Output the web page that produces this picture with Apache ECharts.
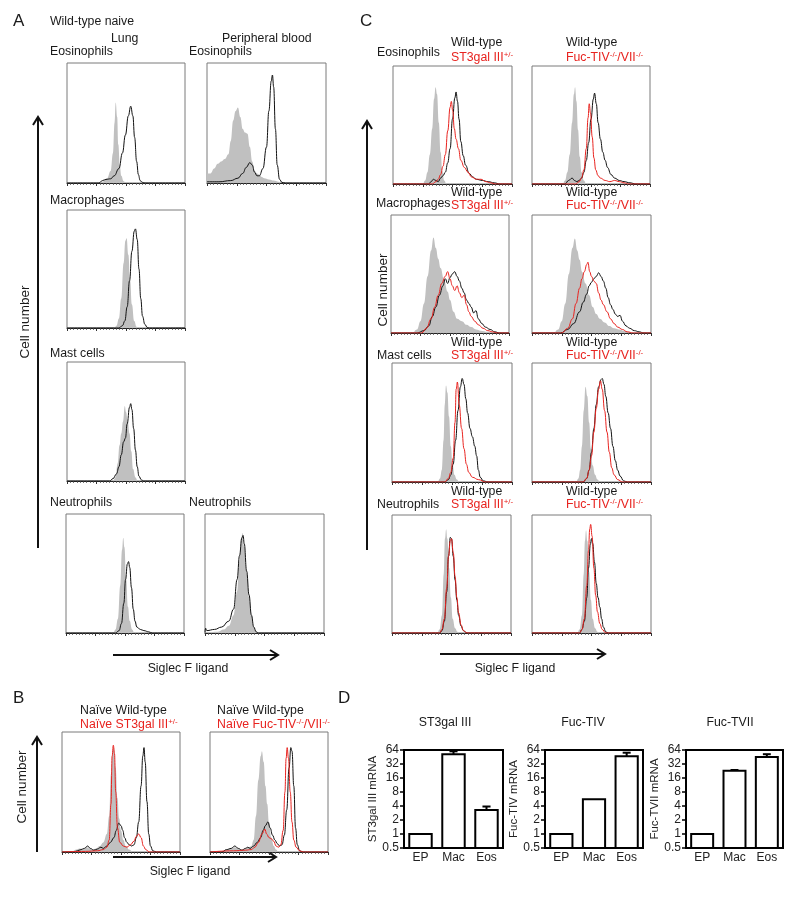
<!DOCTYPE html>
<html><head><meta charset="utf-8">
<script src="https://cdn.jsdelivr.net/npm/echarts@6/dist/echarts.min.js"></script>
<style>html,body{margin:0;padding:0;background:#fff}#c{width:800px;height:901px}</style>
</head><body><div id="c"></div>
<script>
// ---------- Histogram data: [x (% of axis), count (% of box height)] ----------
// Panel A (wild-type naive)
const aLungEosGray  = [[26,0],[30,1],[34,4],[37,10],[39,25],[40.3,50],[41.3,67],[42.5,55],[43.5,32],[44.8,14],[46,6],[48,1.5],[50,0]];
const aLungEosBlack = [[27,0],[30,2],[33,3],[37,3.5],[40,6],[44,12],[47,25],[49.5,40],[52,56],[54,64],[55.8,56],[57.3,38],[59,18],[60.5,7],[62,2],[64,0.5],[66,0]];
const aPbEosGray    = [[0,8],[3,8],[6,12],[9,16],[12,18],[15,20],[18,24],[20,35],[22,52],[24,60],[26,63],[28,55],[30,45],[32,42],[34,41],[36,30],[38,18],[40,10],[42,8],[44,7],[46,5],[48,4],[52,3],[56,2],[60,1],[64,0]];
const aPbEosBlack   = [[0,1],[10,1],[20,2],[26,4],[30,8],[33,13],[36,17],[38,15],[40,9],[42,6],[44,6],[47,12],[50,30],[52,60],[54,85],[55,90],[56,80],[57.5,45],[59,15],[61,3],[63,0.5],[66,0]];
const aMacGray      = [[40,0],[42,2],[44,8],[46,25],[48,55],[49.5,74],[50.5,76],[52,62],[53.5,40],[55,20],[57,6],[59,1],[61,0]];
const aMacBlack     = [[44,0],[47,2],[49,6],[51,18],[53,40],[55,65],[57,82],[58,84],[59.5,75],[61,50],[62.5,25],[64,10],[66,3],[68,0.5],[70,0]];
const aMastGray     = [[39,0],[41,3],[43,15],[44.5,30],[46,40],[47.5,50],[49,63],[50,58],[51.5,50],[53,40],[54.5,25],[56,10],[58,3],[60,0]];
const aMastBlack    = [[36,0],[39,2],[42,6],[44,12],[46,22],[48,33],[49.5,36],[51,48],[53,62],[54,65],[55,60],[56.5,44],[58,26],[59.5,12],[61,4],[63,1],[65,0]];
const aNeuGray      = [[40,0],[42,3],[44,12],[46,40],[47.5,70],[48.5,80],[49.5,72],[51,45],[52.5,22],[54,10],[56,3],[58,0]];
const aNeuBlack     = [[42,0],[45,2],[47,8],[49,25],[50.5,45],[52,58],[53,60],[54,55],[55.5,38],[57,20],[58.5,10],[60,5],[63,3],[66,2],[70,1],[73,0]];
const aPbNeuGray    = [[0,0],[10,1],[16,3],[20,6],[24,15],[27,35],[29,60],[30.5,80],[31.5,84],[33,72],[35,50],[37,30],[39,15],[41,5],[43,1],[45,0]];
const aPbNeuBlack   = [[0,0.5],[0.5,4],[1.5,2],[8,3],[14,5],[20,10],[24,20],[27,45],[29,65],[31,80],[32,82],[33,75],[35,52],[37,32],[39,15],[41,5],[43,1],[45,0]];
// Panel B (naive)
const bSt3Gray  = [[8,0],[12,2],[15,3],[18,2],[21,4],[23,3],[26,2],[29,3],[32,5],[35,8],[38,15],[40,30],[41.5,65],[43,85],[44,87],[45.5,70],[47,45],[48.5,28],[50,18],[52,10],[54,5],[57,2],[60,0]];
const bSt3Black = [[10,0],[13,1],[16,2],[19,3],[21.7,5],[24,3],[27,1.5],[30,2.5],[33,4],[35,3],[38,5],[41,8],[44,12],[46,18],[48,24],[50,22],[51.5,18],[53,12],[55,8],[57,6],[59,5],[61,6],[63,12],[65,25],[67,55],[68.5,80],[69.5,87],[70.5,75],[72,42],[73.5,15],[75,5],[77,1],[80,0]];
const bSt3Red   = [[0,0],[20,0.5],[30,1],[35,2],[38,4],[40,10],[41.5,40],[42.5,80],[43.5,89],[44.5,82],[45.5,50],[47,20],[49,8],[52,5],[55,4],[58,6],[61,9],[63,13],[65,15],[67,12],[69,5],[71,2],[74,0]];
const bFucGray  = [[10,0],[14,2],[18,3],[21,4],[24,3],[27,2],[30,3],[33,4],[35,5],[37,10],[39,30],[41,60],[43,80],[44,84],[45.5,75],[47,55],[48.5,40],[50,25],[52,12],[54,5],[56,2],[58,0]];
const bFucBlack = [[10,0],[14,2],[18,3],[21,5],[24,3],[27,1.5],[30,3],[32,4],[34,3],[37,5],[40,8],[43,12],[45,18],[47,22],[49,25],[51,20],[53,14],[55,10],[57,7],[59,5],[61,6],[63,14],[65,35],[67,70],[68.5,87],[69.5,84],[71,55],[72.5,20],[74,6],[76,1],[79,0]];
const bFucRed   = [[0,0],[20,1],[30,1.5],[35,2],[38,4],[41,8],[44,15],[46.5,19],[48,15],[50,12],[52,11],[54,9],[56,5],[58,4],[60,6],[62,18],[63.5,50],[64.5,78],[65.4,87],[66.5,78],[68,50],[69.5,25],[71,10],[73,4],[76,1],[79,0]];
// Panel C
const cEosSt3Gray  = [[25,0],[27,3],[29,10],[31,25],[33,47],[34.5,72],[35.8,82],[37,76],[38.5,52],[40,27],[41.5,11],[43,3],[45,0]];
const cEosSt3Black = [[30,0],[32,2],[34,4],[36,3],[38,2],[40,5],[42,7],[44,10],[46,18],[48,30],[50,55],[52,73],[53,78],[54.2,70],[55.5,55],[57,36],[59,24],[61,16],[64,9],[67,6],[70,4],[75,3],[80,2],[85,1],[90,0]];
const cEosSt3Red   = [[33,0],[36,2],[38,4],[40,8],[42,15],[44,25],[46,45],[48,65],[49,70],[50.2,62],[51.5,47],[53,38],[55,30],[57,20],[60,14],[63,10],[66,6],[70,4],[74,4],[78,2],[82,1],[86,0]];
const cEosFucGray  = [[26,0],[28,3],[30,10],[32,25],[34,52],[35.5,76],[36.5,82],[37.7,70],[39,46],[40.5,23],[42,10],[44,3],[46,0]];
const cEosFucBlack = [[28,0],[31,3],[34,5],[36,3],[38,2],[40,3],[42,5],[44,10],[46,20],[48,35],[50,55],[52,72],[53,77],[54.5,68],[56,52],[58,38],[60,27],[62,20],[64,14],[67,8],[70,5],[74,3],[78,2],[83,1],[88,0]];
const cEosFucRed   = [[37,0],[40,2],[42,5],[44,12],[46,30],[47.5,56],[48.5,68],[49.6,60],[51,40],[52.5,22],[54,12],[56,7],[58,5],[62,3],[66,2],[70,3],[74,2],[78,1],[82,0]];
const cMacSt3Gray  = [[18,0],[22,3],[25,10],[28,25],[31,48],[34,70],[36,81],[38,72],[40,63],[42,55],[45,45],[48,35],[50,28],[53,18],[56,12],[60,10],[64,7],[68,5],[72,3],[76,2],[82,1],[88,0]];
const cMacSt3Black = [[22,0],[28,2],[32,6],[35,14],[38,22],[41,32],[44,40],[46,46],[48,42],[50,47],[52,50],[54,52],[56,48],[58,44],[60,38],[62,34],[64,28],[66,25],[68,22],[70,17],[72,19],[74,12],[77,8],[80,5],[84,3],[88,1],[92,0]];
const cMacSt3Red   = [[26,0],[30,4],[34,12],[37,22],[40,32],[43,42],[46,48],[48,52],[50,46],[52,40],[54,36],[56,40],[58,34],[60,30],[62,32],[64,24],[66,18],[68,14],[71,10],[74,7],[78,4],[82,2],[86,1],[90,0]];
const cMacFucGray  = [[18,0],[22,3],[25,10],[28,25],[31,50],[34,72],[36,80],[38,70],[40,62],[42,52],[45,42],[48,32],[51,22],[54,16],[57,12],[61,9],[65,6],[69,4],[73,3],[77,2],[82,1],[88,0]];
const cMacFucBlack = [[24,0],[30,3],[35,8],[40,18],[43,26],[46,33],[48,40],[50,43],[52,46],[54,48],[56,51],[58,48],[60,44],[62,38],[64,30],[66,24],[68,20],[70,16],[72,14],[74,15],[76,10],[79,6],[82,4],[86,2],[90,1],[94,0]];
const cMacFucRed   = [[25,0],[30,4],[34,12],[37,25],[40,38],[42,46],[44,52],[46,58],[47,60],[48.5,52],[50,48],[52,44],[54,42],[56,34],[58,28],[60,24],[63,18],[66,12],[69,8],[72,5],[76,3],[80,1],[85,0]];
const cMastSt3Gray  = [[38,0],[40,3],[41.5,10],[43,35],[44,65],[45,81],[46.2,75],[47.5,55],[49,30],[50.5,15],[52,6],[54,2],[56,0]];
const cMastSt3Black = [[44,0],[47,2],[49,6],[51,15],[53,35],[55,60],[57,80],[58.5,87],[60,82],[61.5,70],[63,58],[65,45],[67,38],[69,30],[70.5,22],[72,10],[73.5,4],[76,1],[80,0]];
const cMastSt3Red   = [[44,0],[47,3],[49,8],[51,20],[52.5,50],[53.5,78],[54.5,84],[56,65],[58,45],[60,28],[62,15],[64,8],[67,4],[72,2],[78,0]];
const cMastFucGray  = [[37,0],[39,3],[40.5,10],[42,30],[43.5,60],[45,80],[46.5,72],[48,50],[49.5,28],[51,14],[53,6],[55,2],[57,0]];
const cMastFucBlack = [[43,0],[46,3],[48,10],[50,25],[52,45],[54,65],[56,80],[58,86],[59,87],[60.5,82],[62,72],[64,58],[66,45],[68,30],[70,18],[72,10],[74,5],[77,1],[80,0]];
const cMastFucRed   = [[43,0],[46,3],[48,10],[50,22],[52,42],[54,62],[56,78],[57.5,85],[59,78],[61,60],[63,42],[65,25],[67,12],[69,6],[72,2],[76,0]];
const cNeuSt3Gray  = [[38,0],[40,3],[42,15],[43.5,50],[44.5,80],[45.5,88],[46.5,80],[48,55],[49.5,30],[51,12],[53,4],[55,1],[57,0]];
const cNeuSt3Black = [[40,0],[42,2],[44,10],[46,35],[47.5,65],[49,81],[50,80],[51.5,65],[53,45],[54.5,28],[56,15],[58,6],[60,2],[63,0]];
const cNeuSt3Red   = [[40,0],[42,3],[44,12],[46,38],[47.5,65],[49,78],[50,80],[51.5,68],[53,48],[54.5,30],[56,17],[58,7],[60,2],[63,0]];
const cNeuFucGray  = [[38,0],[40,3],[42,15],[43.5,50],[44.5,78],[45.4,87],[46.5,78],[48,52],[49.5,28],[51,12],[53,4],[55,1],[57,0]];
const cNeuFucBlack = [[40,0],[42,3],[44,10],[46,30],[47.5,55],[49,75],[50,80],[51,76],[52.5,60],[54,42],[55.5,30],[57,22],[58.5,12],[60,5],[62,1],[64,0]];
const cNeuFucRed   = [[40,0],[42,3],[44,12],[46,40],[47.5,70],[48.5,88],[49.3,92],[50.5,82],[52,55],[53.5,32],[55,18],[57,8],[59,3],[62,0]];

// ---------- Panel D bar data (relative mRNA, log2 axis) ----------
const barCategories = ['EP', 'Mac', 'Eos'];
const st3galMean = [1, 52, 3.3];
const st3galErrTop = [1, 60, 3.9];
const fucTIVMean = [1, 5.6, 47];
const fucTIVErrTop = [1, 5.7, 56];
const fucTVIIMean = [1, 23, 45];
const fucTVIIErrTop = [1, 23.8, 52];
const barTitles = ['ST3gal III', 'Fuc-TIV', 'Fuc-TVII'];
const barYNames = ['ST3gal III mRNA', 'Fuc-TIV mRNA', 'Fuc-TVII mRNA'];

// ---------- layout ----------
const FONT = '"Liberation Sans", Arial, sans-serif';
const RED = '#e8231f';
const GRAYFILL = '#c0c0c0';

const histPanels = [
  {x:67, y:63, w:118, h:120, s:[[aLungEosGray,'g'],[aLungEosBlack,'k']]},
  {x:207,y:63, w:119, h:120, s:[[aPbEosGray,'g'],[aPbEosBlack,'k']]},
  {x:67, y:210,w:118, h:118, s:[[aMacGray,'g'],[aMacBlack,'k']]},
  {x:67, y:362,w:118, h:119, s:[[aMastGray,'g'],[aMastBlack,'k']]},
  {x:66, y:514,w:118, h:119, s:[[aNeuGray,'g'],[aNeuBlack,'k']]},
  {x:205,y:514,w:119, h:119, s:[[aPbNeuGray,'g'],[aPbNeuBlack,'k']]},
  {x:62, y:732,w:118, h:120, s:[[bSt3Gray,'g'],[bSt3Black,'k'],[bSt3Red,'r']]},
  {x:210,y:732,w:118, h:120, s:[[bFucGray,'g'],[bFucBlack,'k'],[bFucRed,'r']]},
  {x:393,y:66, w:119, h:118, s:[[cEosSt3Gray,'g'],[cEosSt3Black,'k'],[cEosSt3Red,'r']]},
  {x:532,y:66, w:118, h:118, s:[[cEosFucGray,'g'],[cEosFucBlack,'k'],[cEosFucRed,'r']]},
  {x:391,y:215,w:118, h:118, s:[[cMacSt3Gray,'g'],[cMacSt3Black,'k'],[cMacSt3Red,'r']]},
  {x:532,y:215,w:119, h:118, s:[[cMacFucGray,'g'],[cMacFucBlack,'k'],[cMacFucRed,'r']]},
  {x:392,y:363,w:120, h:119, s:[[cMastSt3Gray,'g'],[cMastSt3Black,'k'],[cMastSt3Red,'r']]},
  {x:532,y:363,w:119, h:119, s:[[cMastFucGray,'g'],[cMastFucBlack,'k'],[cMastFucRed,'r']]},
  {x:392,y:515,w:119, h:118, s:[[cNeuSt3Gray,'g'],[cNeuSt3Black,'k'],[cNeuSt3Red,'r']]},
  {x:532,y:515,w:119, h:118, s:[[cNeuFucGray,'g'],[cNeuFucBlack,'k'],[cNeuFucRed,'r']]}
];
const barPanels = [
  {x:404, w:99, mean:st3galMean, err:st3galErrTop},
  {x:545, w:98, mean:fucTIVMean, err:fucTIVErrTop},
  {x:686, w:97, mean:fucTVIIMean, err:fucTVIIErrTop}
];

function withEnds(arr){
  const d = arr.slice();
  if (d[0][0] > 0) d.unshift([0,0]);
  if (d[d.length-1][0] < 100) d.push([100,0]);
  return d;
}

const grid = [], xAxis = [], yAxis = [], series = [];
histPanels.forEach((p, i) => {
  grid.push({left:p.x, top:p.y, width:p.w, height:p.h, show:true, borderColor:'#7a7a7a', borderWidth:1, backgroundColor:'rgba(0,0,0,0)'});
  xAxis.push({gridIndex:i, type:'value', min:0, max:100, interval:25,
    axisLine:{show:true, onZero:false, lineStyle:{color:'#222', width:1}},
    axisTick:{show:true, inside:false, length:3, lineStyle:{color:'#333', width:1}},
    minorTick:{show:true, splitNumber:9, length:2, lineStyle:{color:'#555', width:0.8}},
    axisLabel:{show:false}, splitLine:{show:false}});
  yAxis.push({gridIndex:i, type:'value', min:0, max:100, show:false});
  p.s.forEach(([arr, kind]) => {
    const s = {type:'line', xAxisIndex:i, yAxisIndex:i, data:withEnds(arr), smooth:0.45, smoothMonotone:'x',
      symbol:'none', silent:true, animation:false};
    if (kind === 'g') { s.lineStyle = {width:0, color:GRAYFILL}; s.areaStyle = {color:GRAYFILL, opacity:1}; s.z = 1; }
    else if (kind === 'k') { s.lineStyle = {width:1, color:'#111'}; s.z = 3; }
    else { s.lineStyle = {width:1, color:RED}; s.z = 4; }
    series.push(s);
  });
});

barPanels.forEach((b, j) => {
  const gi = histPanels.length + j;
  grid.push({left:b.x, top:750, width:b.w, height:98, show:true, borderColor:'#000', borderWidth:2, backgroundColor:'rgba(0,0,0,0)'});
  xAxis.push({gridIndex:gi, type:'category', data:barCategories,
    axisLine:{lineStyle:{color:'#000', width:2}}, axisTick:{show:false},
    axisLabel:{color:'#222', fontSize:12, fontFamily:FONT, margin:4}});
  yAxis.push({gridIndex:gi, type:'log', logBase:2, min:0.5, max:64, splitNumber:7,
    axisLine:{show:true, lineStyle:{color:'#000', width:2}},
    axisTick:{show:true, length:4, lineStyle:{color:'#000', width:1.5}},
    axisLabel:{color:'#222', fontSize:12, fontFamily:FONT, margin:5, formatter:v => String(Math.round(v*100)/100)},
    splitLine:{show:false},
    name:barYNames[j], nameLocation:'middle', nameRotate:90, nameGap:22,
    nameTextStyle:{color:'#222', fontSize:11.5, fontFamily:FONT}});
  series.push({type:'custom', xAxisIndex:gi, yAxisIndex:gi, silent:true, animation:false,
    data: barCategories.map((c, k) => [k, b.mean[k], b.err[k]]),
    encode:{x:0, y:1},
    renderItem: function(params, api){
      const top = api.coord([api.value(0), api.value(1)]);
      const base = api.coord([api.value(0), 0.5]);
      const et = api.coord([api.value(0), api.value(2)]);
      const w = api.size([1, 0])[0] * 0.68;
      const children = [{type:'rect', shape:{x:top[0]-w/2, y:top[1], width:w, height:base[1]-top[1]},
        style:{fill:'#fff', stroke:'#000', lineWidth:2}}];
      if (et[1] < top[1] - 0.5) {
        children.push({type:'line', shape:{x1:top[0], y1:top[1], x2:top[0], y2:et[1]}, style:{stroke:'#000', lineWidth:2}});
        children.push({type:'line', shape:{x1:top[0]-w*0.18, y1:et[1], x2:top[0]+w*0.18, y2:et[1]}, style:{stroke:'#000', lineWidth:2}});
      }
      return {type:'group', children:children};
    }});
});

// ---------- text & arrows ----------
const graphic = [];
function T(text, x, y, opt){
  opt = opt || {};
  graphic.push({type:'text', x:x, y:y, rotation:opt.rot || 0, silent:true,
    style:{text:text, fill:opt.color || '#1a1a1a', font:(opt.size || 12.3) + 'px ' + FONT,
      align:opt.align || 'left', verticalAlign:'middle',
      rich:{s:{fontSize:8, fill:opt.color || '#1a1a1a', verticalAlign:'top', fontFamily:FONT, lineHeight:14},
            n:{fontSize:opt.size || 12.3, fill:opt.color || '#1a1a1a', fontFamily:FONT, lineHeight:14}}}});
}
function R(text, x, y){ T(text, x, y, {color:RED}); }
function vArrow(x, yTop, yBot){
  graphic.push({type:'line', silent:true, shape:{x1:x, y1:yBot, x2:x, y2:yTop+1}, style:{stroke:'#111', lineWidth:2}});
  graphic.push({type:'polyline', silent:true, shape:{points:[[x-5, yTop+8],[x, yTop],[x+5, yTop+8]]}, style:{stroke:'#111', lineWidth:2, fill:null}});
}
function hArrow(x1, x2, y){
  graphic.push({type:'line', silent:true, shape:{x1:x1, y1:y, x2:x2-1, y2:y}, style:{stroke:'#111', lineWidth:2}});
  graphic.push({type:'polyline', silent:true, shape:{points:[[x2-8, y-5],[x2, y],[x2-8, y+5]]}, style:{stroke:'#111', lineWidth:2, fill:null}});
}
const ST3 = '{n|ST3gal III}{s|+/-}';
const FUC = '{n|Fuc-TIV}{s|-/-}{n|/VII}{s|-/-}';

// Panel A
T('A', 13, 21, {size:17});
T('Wild-type naive', 50, 22);
T('Lung', 111, 39);
T('Peripheral blood', 222, 39);
T('Eosinophils', 50, 52);
T('Eosinophils', 189, 52);
T('Macrophages', 50, 201);
T('Mast cells', 50, 354);
T('Neutrophils', 50, 503);
T('Neutrophils', 189, 503);
vArrow(38, 117, 548);
T('Cell number', 25, 322, {rot:Math.PI/2, align:'center', size:13.5});
hArrow(113, 278, 655);
T('Siglec F ligand', 188, 669, {align:'center'});

// Panel C
T('C', 360, 21, {size:17});
T('Eosinophils', 377, 53);
T('Macrophages', 376, 204);
T('Mast cells', 377, 356);
T('Neutrophils', 377, 505);
[[43,58],[193,206],[343,356],[492,505]].forEach(([y1,y2]) => {
  T('Wild-type', 451, y1); R(ST3, 451, y2);
  T('Wild-type', 566, y1); R(FUC, 566, y2);
});
vArrow(367, 121, 550);
T('Cell number', 383, 290, {rot:Math.PI/2, align:'center', size:13.5});
hArrow(440, 605, 654);
T('Siglec F ligand', 515, 669, {align:'center'});

// Panel B
T('B', 13, 698, {size:17});
T('Naïve Wild-type', 80, 711);
R('{n|Naïve ST3gal III}{s|+/-}', 80, 725);
T('Naïve Wild-type', 217, 711);
R('{n|Naïve Fuc-TIV}{s|-/-}{n|/VII}{s|-/-}', 217, 725);
vArrow(37, 737, 852);
T('Cell number', 22, 787, {rot:Math.PI/2, align:'center', size:13.5});
hArrow(113, 276, 857);
T('Siglec F ligand', 190, 872, {align:'center'});

// Panel D
T('D', 338, 698, {size:17});
T(barTitles[0], 445, 723, {align:'center'});
T(barTitles[1], 583, 723, {align:'center'});
T(barTitles[2], 730, 723, {align:'center'});

const chart = echarts.init(document.getElementById('c'), null, {renderer:'canvas'});
chart.setOption({animation:false, backgroundColor:'#fff', grid, xAxis, yAxis, series, graphic});
</script>
</body></html>
